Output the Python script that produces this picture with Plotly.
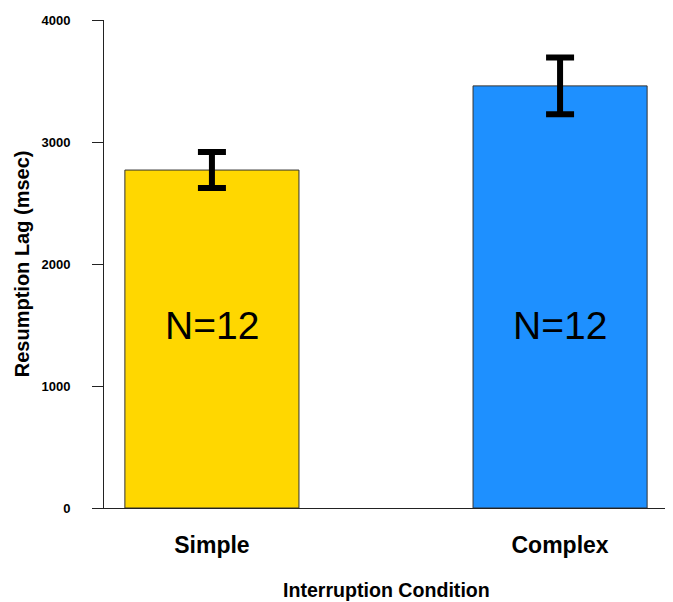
import plotly.graph_objects as go

categories = ["Simple", "Complex"]
means = [2770, 3460]
errors = [148, 233]
colors = ["#FFD700", "#1E90FF"]
n_labels = ["N=12", "N=12"]
y_ticks = [0, 1000, 2000, 3000, 4000]

fig = go.Figure()
fig.add_trace(go.Bar(
    x=categories, y=means, width=0.5,
    marker=dict(color=colors, line=dict(color="#333333", width=1)),
    error_y=dict(type="data", array=errors, visible=True, color="black",
                 thickness=6, width=14),
    showlegend=False,
))

for c, t in zip(categories, n_labels):
    fig.add_annotation(x=c, y=1500, xref="x", yref="y", text=t, showarrow=False,
                       font=dict(family="Liberation Sans", size=39, color="black"),
                       xanchor="center", yanchor="middle")

fig.add_annotation(x=0.5, y=-0.169, xref="paper", yref="paper",
                   text="<b>Interruption Condition</b>", showarrow=False,
                   font=dict(family="Liberation Sans", size=19.6, color="black"),
                   xanchor="center", yanchor="middle")
fig.add_annotation(x=-0.145, y=0.5, xref="paper", yref="paper",
                   text="<b>Resumption Lag (msec)</b>", showarrow=False, textangle=-90,
                   font=dict(family="Liberation Sans", size=20, color="black"),
                   xanchor="center", yanchor="middle")

fig.update_layout(
    width=665, height=594,
    margin=dict(l=96, r=5, t=8, b=94, pad=0),
    plot_bgcolor="white", paper_bgcolor="white",
    xaxis=dict(range=[-0.31, 1.31], showline=True, linecolor="#222222", linewidth=1,
               ticks="", showgrid=False, zeroline=False,
               tickfont=dict(family="Liberation Sans", size=23, color="black", weight="bold"),
               ticklabelstandoff=16),
    yaxis=dict(range=[0, 4000], tickvals=y_ticks, showline=True, linecolor="#222222",
               linewidth=1, ticks="outside", ticklen=11, tickcolor="#222222",
               showgrid=False, zeroline=False, ticklabeloverflow="allow",
               tickfont=dict(family="Liberation Sans", size=13, color="black", weight="bold"),
               ticklabelstandoff=19),
)

fig.write_html("out.html")
